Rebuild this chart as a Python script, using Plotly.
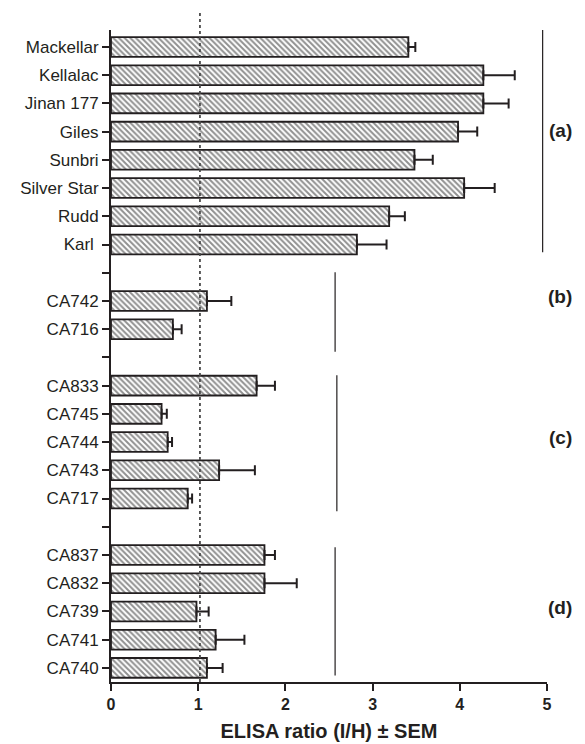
import plotly.graph_objects as go

# ---- data ----
labels = ["Mackellar", "Kellalac", "Jinan 177", "Giles", "Sunbri", "Silver Star", "Rudd", "Karl ",
          "",
          "CA742", "CA716",
          "",
          "CA833", "CA745", "CA744", "CA743", "CA717",
          "",
          "CA837", "CA832", "CA739", "CA741", "CA740"]
values = [3.41, 4.27, 4.27, 3.98, 3.48, 4.05, 3.19, 2.82,
          None,
          1.10, 0.71,
          None,
          1.67, 0.58, 0.65, 1.24, 0.88,
          None,
          1.76, 1.76, 0.98, 1.20, 1.10]
upper = [3.49, 4.63, 4.56, 4.20, 3.69, 4.40, 3.37, 3.16,
         None,
         1.38, 0.81,
         None,
         1.88, 0.64, 0.70, 1.65, 0.93,
         None,
         1.88, 2.13, 1.12, 1.53, 1.28]
sem = [None if v is None else round(u - v, 3) for v, u in zip(values, upper)]
group_names = ["(a)", "(b)", "(c)", "(d)"]
group_label_pos = [2.95, 8.85, 13.85, 19.85]
group_line_x = [4.95, 2.57, 2.59, 2.57]
group_line_y = [(-0.67, 7.27), (7.98, 10.8), (11.63, 16.45), (17.73, 22.27)]
ref_line_x = 1.02
xticks = [0, 1, 2, 3, 4, 5]

pos = list(range(len(labels)))
txt = "#231f20"

fig = go.Figure()
fig.add_trace(go.Bar(
    y=pos, x=values, orientation="h", width=0.7,
    marker=dict(color="white", line=dict(color="#231f20", width=1.8),
                pattern=dict(shape="\\", fgcolor="#222222", bgcolor="white",
                             size=4, solidity=0.5)),
    error_x=dict(type="data", symmetric=False, array=sem,
                 arrayminus=[0 if s is not None else None for s in sem],
                 color="#231f20", thickness=2, width=5),
    showlegend=False,
))

shapes = []
for gx, (y0, y1) in zip(group_line_x, group_line_y):
    shapes.append(dict(type="line", xref="x", yref="y", x0=gx, x1=gx, y0=y0, y1=y1,
                       line=dict(color="#231f20", width=1.2)))
shapes.append(dict(type="line", xref="x", yref="paper", x0=ref_line_x, x1=ref_line_x,
                   y0=0, y1=1.0276, line=dict(color="#4a4a4a", width=1.8, dash="3px,3px")))

annotations = []
for name, yy in zip(group_names, group_label_pos):
    annotations.append(dict(xref="paper", yref="y", x=1.062, y=yy, text="<b>%s</b>" % name,
                            showarrow=False, xanchor="right", yanchor="middle",
                            font=dict(size=19, color=txt, family="Liberation Sans, Arial")))

fig.update_layout(
    width=577, height=736,
    margin=dict(l=103, r=38, t=22, b=62, autoexpand=False),
    plot_bgcolor="white", paper_bgcolor="white",
    shapes=shapes, annotations=annotations,
    font=dict(family="Liberation Sans, Arial", color=txt),
    bargap=0.3,
)
fig.update_xaxes(range=[0, 5], tickvals=xticks, ticktext=["<b>%d</b>" % t for t in xticks],
                 automargin=False,
                 showgrid=False, zeroline=False, showline=True, linecolor="#231f20", linewidth=2,
                 ticks="outside", ticklen=7, tickwidth=2, tickcolor="#231f20",
                 tickfont=dict(size=16, color=txt),
                 title=dict(text="<b>ELISA ratio (I/H) ± SEM</b>", font=dict(size=20, color=txt),
                            standoff=12))
fig.update_yaxes(range=[22.5, -0.6], tickvals=pos, ticktext=labels, automargin=False,
                 showgrid=False, zeroline=False, showline=True, linecolor="#231f20", linewidth=2,
                 ticks="outside", ticklen=7, tickwidth=2, tickcolor="#231f20",
                 tickfont=dict(size=17, color=txt))

fig.write_html("out.html")
